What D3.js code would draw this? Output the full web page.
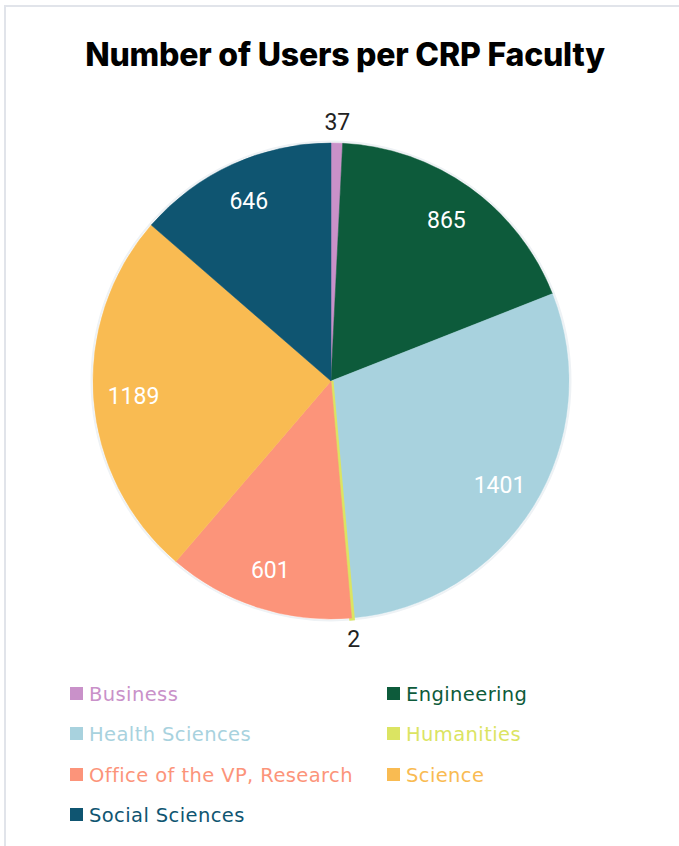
<!DOCTYPE html>
<html>
<head>
<meta charset="utf-8">
<script src="https://cdn.jsdelivr.net/npm/d3@7"></script>
<style>
  html, body { margin: 0; padding: 0; background: #fff; }
  svg { display: block; }
</style>
</head>
<body>
<svg id="chart" width="679" height="846"></svg>
<script>
const categories = ["Business", "Engineering", "Health Sciences", "Humanities", "Office of the VP, Research", "Science", "Social Sciences"];
const values = [37, 865, 1401, 2, 601, 1189, 646];
const colors = ["#c991c9", "#0d5b3b", "#a8d2de", "#dbe462", "#fc947a", "#f9bb52", "#0f5571"];
const outsideLabel = [true, false, false, true, false, false, false];
const title = "Number of Users per CRP Faculty";

const svg = d3.select("#chart");
const W = 679, H = 846;

// card border
svg.append("rect").attr("x", 5).attr("y", 6).attr("width", W + 10).attr("height", H + 10)
  .attr("fill", "#fff").attr("stroke", "#e1e4ea").attr("stroke-width", 2);

svg.append("text").attr("x", 345).attr("y", 66).attr("text-anchor", "middle")
  .attr("font-family", "Inter, 'Open Sans', sans-serif").attr("font-weight", 800)
  .attr("font-size", 32).attr("fill", "#000").attr("letter-spacing", -0.2).text(title);

const data = categories.map((c, i) => ({ name: c, value: values[i], color: colors[i], outside: outsideLabel[i] }));
const cx = 331, cy = 381, R = 238;
const pie = d3.pie().value(d => d.value).sort(null);
const arcs = pie(data);
const arc = d3.arc().innerRadius(0).outerRadius(R);
const labelArc = d3.arc().innerRadius(198).outerRadius(198);
const outArc = d3.arc().innerRadius(259).outerRadius(259);

const g = svg.append("g").attr("transform", `translate(${cx},${cy})`);
g.append("circle").attr("r", R + 1.5).attr("fill", "none").attr("stroke", "#eef2f5").attr("stroke-width", 2);
g.selectAll("path").data(arcs).join("path")
  .attr("d", arc).attr("fill", d => d.data.color)
  .attr("stroke", d => d.data.color).attr("stroke-width", d => d.data.value < 10 ? 5 : 0.5);

g.selectAll("text.lbl").data(arcs).join("text").attr("class", "lbl")
  .attr("transform", d => `translate(${(d.data.outside ? outArc : labelArc).centroid(d)})`)
  .attr("text-anchor", "middle").attr("dy", "0.36em")
  .attr("font-family", "Roboto, sans-serif").attr("font-size", 23)
  .attr("fill", d => d.data.outside ? "#222" : "#fff")
  .text(d => d.data.value);

// legend
const lg = svg.append("g");
const colX = [70, 387], rowY = [694, 734, 775, 815];
data.forEach((d, i) => {
  const x = colX[i % 2], y = rowY[Math.floor(i / 2)];
  lg.append("rect").attr("x", x).attr("y", y - 7).attr("width", 13).attr("height", 13).attr("fill", d.color);
  lg.append("text").attr("x", x + 19).attr("y", y).attr("dy", "0.36em")
    .attr("font-family", "'DejaVu Sans', sans-serif").attr("font-weight", 400)
    .attr("font-size", 19.5).attr("letter-spacing", 0.4).attr("fill", d.color).text(d.name);
});
</script>
</body>
</html>
